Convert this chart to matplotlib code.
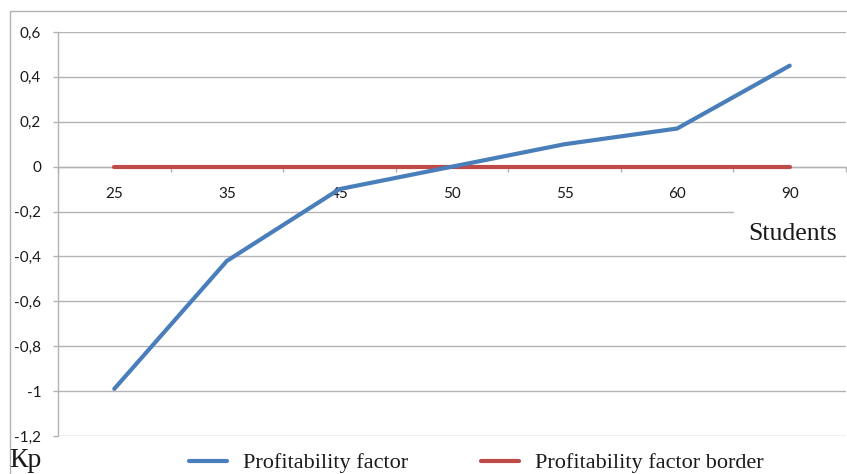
import matplotlib
matplotlib.use("Agg")
import matplotlib.pyplot as plt
from matplotlib.patches import Rectangle
import numpy as np

# Data
students = ["25", "35", "45", "50", "55", "60", "90"]
profitability = [-0.99, -0.42, -0.10, 0.00, 0.10, 0.17, 0.45]
border = [0, 0, 0, 0, 0, 0, 0]
y_ticks = [0.6, 0.4, 0.2, 0.0, -0.2, -0.4, -0.6, -0.8, -1.0, -1.2]
y_tick_labels = ["0,6", "0,4", "0,2", "0", "-0,2", "-0,4", "-0,6", "-0,8", "-1", "-1,2"]

W, H = 847, 474
fig = plt.figure(figsize=(W / 100, H / 100), dpi=100)
fig.patch.set_facecolor("white")

GRID = "#b3b3b3"
BLUE = "#4a7ebb"
RED = "#be4b48"
TEXT = "#1a1a1a"

def fx(px):
    return px / W

def fy(py):
    return 1 - py / H

# outer chart border
fig.add_artist(Rectangle((fx(10), fy(480)), fx(900), fy(11) - fy(480),
                         transform=fig.transFigure, fill=False,
                         edgecolor=GRID, linewidth=1.0, zorder=0))

ax = fig.add_axes([fx(58), fy(436), fx(846) - fx(58), fy(32) - fy(436)])
ax.set_facecolor("none")

x = np.arange(len(students))
ax.set_xlim(-0.5, len(students) - 0.5)
ax.set_ylim(-1.2, 0.6)

l1, = ax.plot(x, profitability, color=BLUE, lw=3.0, solid_capstyle="round",
              solid_joinstyle="round", zorder=4, label="Profitability factor")
l2, = ax.plot(x, border, color=RED, lw=3.0, solid_capstyle="round",
              zorder=3, label="Profitability factor border")

# horizontal gridlines
for v in y_ticks:
    ax.axhline(v, color=GRID, lw=1.0, zorder=1)

for s in ["top", "right"]:
    ax.spines[s].set_visible(False)
ax.spines["left"].set_color(GRID)
ax.spines["left"].set_linewidth(1.0)
ax.spines["bottom"].set_position(("data", 0))
ax.spines["bottom"].set_color(GRID)
ax.spines["bottom"].set_linewidth(1.0)

ax.set_yticks(y_ticks)
ax.set_yticklabels(y_tick_labels)
ax.tick_params(axis="y", direction="out", length=3.6, width=1.0, color=GRID,
               pad=8.5, labelsize=11, labelcolor=TEXT)

# category boundaries carry the tick marks, category centres the labels
ax.set_xticks(np.arange(-0.5, len(students), 1.0))
ax.set_xticklabels([])
ax.set_xticks(x, minor=True)
ax.set_xticklabels(students, minor=True)
ax.tick_params(axis="x", which="major", direction="out", length=3.6, width=1.0, color=GRID)
ax.tick_params(axis="x", which="minor", length=0, pad=15, labelsize=11, labelcolor=TEXT)

for lab in ax.get_xticklabels(minor=True) + ax.get_yticklabels():
    lab.set_fontfamily("Lato")

SERIF = "Liberation Serif"

# white boxes behind axis title and legend texts
for (x0, y0, x1, y1) in [(734, 206, 860, 250), (230, 437, 427, 480), (520, 437, 786, 480)]:
    fig.add_artist(Rectangle((fx(x0), fy(y1)), fx(x1) - fx(x0), fy(y0) - fy(y1),
                             transform=fig.transFigure, facecolor="white",
                             edgecolor="none", zorder=2))

fig.text(fx(748), fy(234), "Students", family=SERIF, fontsize=18.5,
         ha="left", va="center", color=TEXT, zorder=6)
fig.text(fx(9), fy(467), "Кр", family=SERIF, fontsize=20,
         ha="left", va="baseline", color=TEXT, zorder=6)

leg = fig.legend(handles=[l1, l2], loc="center left",
                 bbox_to_anchor=(fx(189), fy(463)), ncol=2, frameon=False,
                 prop={"family": SERIF, "size": 16}, handlelength=1.7,
                 handletextpad=0.72, columnspacing=3.3, borderpad=0,
                 borderaxespad=0)
for t in leg.get_texts():
    t.set_color(TEXT)
leg.set_zorder(6)

fig.savefig("out.png", dpi=100)
